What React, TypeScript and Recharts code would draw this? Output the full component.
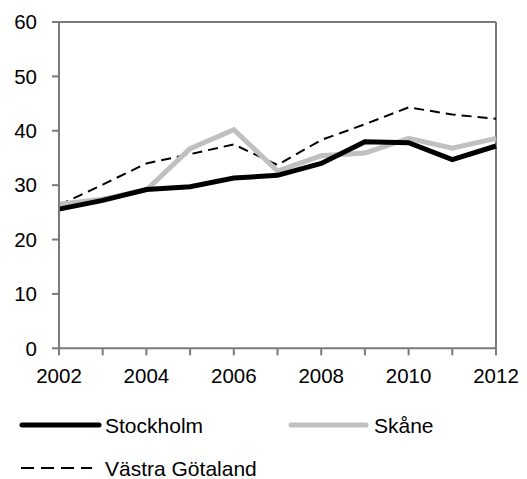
import React from 'react';
import { LineChart, Line, XAxis, YAxis, ReferenceLine } from 'recharts';

const years = [2002, 2003, 2004, 2005, 2006, 2007, 2008, 2009, 2010, 2011, 2012];
const stockholm = [25.6, 27.2, 29.2, 29.7, 31.3, 31.8, 34.0, 38.0, 37.8, 34.7, 37.2];
const skane = [26.5, 27.4, 29.1, 36.7, 40.2, 32.6, 35.4, 35.9, 38.6, 36.8, 38.6];
const vastra = [26.3, 30.1, 34.0, 35.7, 37.5, 33.7, 38.3, 41.2, 44.3, 43.0, 42.2];
const yTicks = [0, 10, 20, 30, 40, 50, 60];
const seriesNames = ['Stockholm', 'Skåne', 'Västra Götaland'];

const data = years.map((y, i) => ({
  year: y,
  stockholm: stockholm[i],
  skane: skane[i],
  vastra: vastra[i],
}));

const FONT = 'Arial, "Liberation Sans", sans-serif';
const AXIS = '#7a7a7a';

export default function App() {
  return (
    <div style={{ position: 'absolute', left: 0, top: 0, width: 527, height: 479, background: '#fff', fontFamily: FONT }}>
      <LineChart width={527} height={479} data={data} margin={{ top: 22, right: 31, left: 0, bottom: 100 }}>
        <XAxis
          dataKey="year"
          type="number"
          domain={[2002, 2012]}
          ticks={years}
          tickFormatter={(v: number) => (v % 2 === 0 ? String(v) : '')}
          interval={0}
          height={30.7}
          tickSize={7}
          tickMargin={13}
          stroke={AXIS}
          strokeWidth={2}
          tick={{ fill: '#000', fontSize: 20.5, fontFamily: FONT }}
        />
        <YAxis
          domain={[0, 60]}
          ticks={yTicks}
          interval={0}
          width={59}
          tickSize={7}
          tickMargin={15}
          stroke={AXIS}
          strokeWidth={2}
          tick={{ fill: '#000', fontSize: 20.5, fontFamily: FONT }}
        />
        <ReferenceLine y={60} stroke={AXIS} strokeWidth={2} ifOverflow="visible" />
        <ReferenceLine x={2012} stroke={AXIS} strokeWidth={2} ifOverflow="visible" />
        <Line dataKey="vastra" name={seriesNames[2]} stroke="#000" strokeWidth={2} strokeDasharray="10 6" dot={false} isAnimationActive={false} />
        <Line dataKey="skane" name={seriesNames[1]} stroke="#c0c0c0" strokeWidth={5} dot={false} isAnimationActive={false} />
        <Line dataKey="stockholm" name={seriesNames[0]} stroke="#000" strokeWidth={5} dot={false} isAnimationActive={false} />
      </LineChart>
      <svg width={527} height={90} style={{ position: 'absolute', left: 0, top: 395 }}>
        <line x1={22} y1={30} x2={99} y2={30} stroke="#000" strokeWidth={5} strokeLinecap="round" />
        <text x={105} y={30} dy="0.36em" fontSize={21} fontFamily={FONT} fill="#000">{seriesNames[0]}</text>
        <line x1={291} y1={30} x2={366} y2={30} stroke="#c0c0c0" strokeWidth={5} strokeLinecap="round" />
        <text x={374} y={30} dy="0.36em" fontSize={21} fontFamily={FONT} fill="#000">{seriesNames[1]}</text>
        <line x1={21} y1={73} x2={92} y2={73} stroke="#000" strokeWidth={2} strokeDasharray="13 7" />
        <text x={105} y={73} dy="0.36em" fontSize={21} fontFamily={FONT} fill="#000">{seriesNames[2]}</text>
      </svg>
    </div>
  );
}
